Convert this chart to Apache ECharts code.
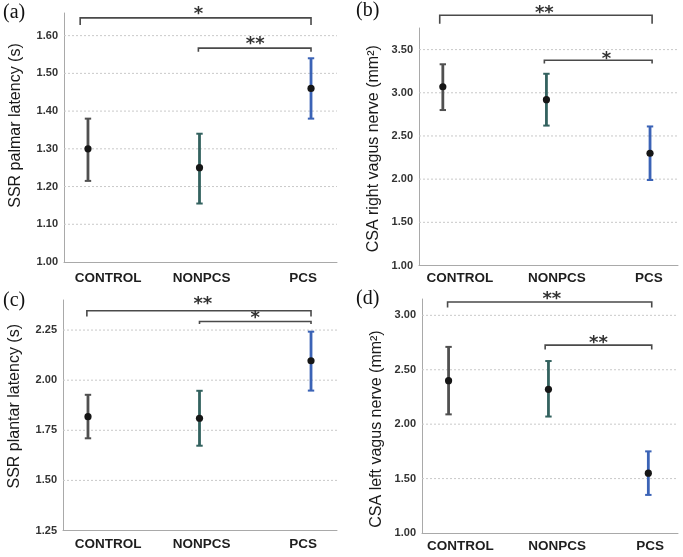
<!DOCTYPE html>
<html><head><meta charset="utf-8">
<script src="https://cdn.jsdelivr.net/npm/echarts@6/dist/echarts.min.js"></script>
<style>html,body{margin:0;padding:0;background:#fff}#c{width:683px;height:557px}</style>
</head><body><div id="c"></div>
<script>
// ---------- data ----------
const groups = ['CONTROL', 'NONPCS', 'PCS'];
const groupColors = ['#505050', '#33625f', '#3b63b6'];

// (a) SSR palmar latency
const aName = 'SSR palmar latency (s)';
const aTicks = [1.00, 1.10, 1.20, 1.30, 1.40, 1.50, 1.60];
const aMean = [1.30, 1.25, 1.46];
const aLow  = [1.215, 1.155, 1.38];
const aHigh = [1.38, 1.34, 1.54];
const aBrackets = [[-0.07, 2.0, 1.647, 1.628], [0.99, 2.0, 1.567, 1.557]];
const aStars = [[0.99, 1.667, '*'], [1.5, 1.587, '**']];

// (b) CSA right vagus nerve
const bName = 'CSA right vagus nerve (mm²)';
const bTicks = [1.00, 1.50, 2.00, 2.50, 3.00, 3.50];
const bMean = [3.07, 2.92, 2.30];
const bLow  = [2.80, 2.62, 1.99];
const bHigh = [3.33, 3.22, 2.61];
const bBrackets = [[-0.03, 2.02, 3.898, 3.80], [0.98, 2.02, 3.376, 3.34]];
const bStars = [[0.98, 3.964, '**'], [1.58, 3.434, '*']];

// (c) SSR plantar latency
const cName = 'SSR plantar latency (s)';
const cTicks = [1.25, 1.50, 1.75, 2.00, 2.25];
const cMean = [1.818, 1.81, 2.097];
const cLow  = [1.71, 1.673, 1.948];
const cHigh = [1.927, 1.947, 2.242];
const cBrackets = [[-0.01, 2.0, 2.346, 2.318], [1.0, 2.0, 2.293, 2.28]];
const cStars = [[1.03, 2.40, '**'], [1.5, 2.328, '*']];

// (d) CSA left vagus nerve
const dName = 'CSA left vagus nerve (mm²)';
const dTicks = [1.00, 1.50, 2.00, 2.50, 3.00];
const dMean = [2.40, 2.32, 1.55];
const dLow  = [2.09, 2.07, 1.35];
const dHigh = [2.71, 2.58, 1.75];
const dBrackets = [[-0.01, 2.034, 3.122, 3.073], [0.967, 2.034, 2.726, 2.687]];
const dStars = [[1.034, 3.183, '**'], [1.5, 2.78, '**']];

// ---------- layout ----------
const panels = [
  {tag:'(a)', tagPos:[3,14], grid:{left:64, top:13, width:273, height:249},
   xMin:-0.215, xMax:2.233, labelPos:[0.18, 1.02, 1.93], yMin:1.0, yMax:1.66,
   name:aName, ticks:aTicks, mean:aMean, low:aLow, high:aHigh, brackets:aBrackets, stars:aStars,
   nameGap:40, namePad:[0,0,0,24], labelMargin:9},
  {tag:'(b)', tagPos:[356,12], grid:{left:419, top:28, width:259, height:237.5},
   xMin:-0.23, xMax:2.27, labelPos:[0.165, 1.10, 1.99], yMin:1.0, yMax:3.75,
   name:bName, ticks:bTicks, mean:bMean, low:bLow, high:bHigh, brackets:bBrackets, stars:bStars,
   nameGap:37, namePad:[0,4,0,0], labelMargin:6},
  {tag:'(c)', tagPos:[3,302], grid:{left:63, top:300, width:274, height:230.5},
   xMin:-0.224, xMax:2.233, labelPos:[0.18, 1.02, 1.93], yMin:1.25, yMax:2.40,
   name:cName, ticks:cTicks, mean:cMean, low:cLow, high:cHigh, brackets:cBrackets, stars:cStars,
   nameGap:40, namePad:[0,0,0,18], labelMargin:7},
  {tag:'(d)', tagPos:[356,300], grid:{left:422, top:299, width:256, height:234},
   xMin:-0.266, xMax:2.297, labelPos:[0.117, 1.087, 2.017], yMin:1.0, yMax:3.15,
   name:dName, ticks:dTicks, mean:dMean, low:dLow, high:dHigh, brackets:dBrackets, stars:dStars,
   nameGap:37, namePad:[0,26,0,0], labelMargin:6}
];

function renderGridLine(params, api) {
  const cs = params.coordSys;
  const p = api.coord([0, api.value(1)]);
  return {type:'line', silent:true,
    shape:{x1:cs.x, y1:p[1], x2:cs.x + cs.width, y2:p[1]},
    style:{stroke:'#c9c9c9', lineWidth:1, lineDash:[2,2]}};
}
function renderErr(params, api) {
  const x = api.value(0), m = api.value(1), lo = api.value(2), hi = api.value(3), ci = api.value(4);
  const pLo = api.coord([x, lo]), pHi = api.coord([x, hi]), pM = api.coord([x, m]);
  const c = groupColors[ci];
  const cap = 3.2;
  return {type:'group', children:[
    {type:'line', shape:{x1:pLo[0], y1:pLo[1], x2:pHi[0], y2:pHi[1]}, style:{stroke:c, lineWidth:2.8}},
    {type:'line', shape:{x1:pLo[0]-cap, y1:pLo[1], x2:pLo[0]+cap, y2:pLo[1]}, style:{stroke:c, lineWidth:2}},
    {type:'line', shape:{x1:pHi[0]-cap, y1:pHi[1], x2:pHi[0]+cap, y2:pHi[1]}, style:{stroke:c, lineWidth:2}},
    {type:'circle', shape:{cx:pM[0], cy:pM[1], r:3.6}, style:{fill:'#161616'}}
  ]};
}
function renderBracket(params, api) {
  const x1 = api.value(0), x2 = api.value(1), yt = api.value(2), ye = api.value(3);
  const pts = [api.coord([x1, ye]), api.coord([x1, yt]), api.coord([x2, yt]), api.coord([x2, ye])];
  return {type:'polyline', shape:{points:pts}, style:{stroke:'#4a4a4a', lineWidth:1.6, fill:null}};
}

const grids = [], xAxes = [], yAxes = [], series = [], graphics = [];
panels.forEach((P, i) => {
  grids.push(Object.assign({outerBoundsMode:'none', containLabel:false}, P.grid));
  xAxes.push({type:'value', gridIndex:i, min:P.xMin, max:P.xMax,
    axisLine:{show:true, onZero:false, lineStyle:{color:'#a9a9a9', width:1}},
    axisTick:{show:false}, splitLine:{show:false},
    axisLabel:{customValues:P.labelPos, margin:P.labelMargin, color:'#1e1e1e', fontWeight:'bold',
      fontSize:13.5, fontFamily:'Liberation Sans',
      formatter:(v) => {
        let best = 0;
        P.labelPos.forEach((lp, k) => { if (Math.abs(lp - v) < Math.abs(P.labelPos[best] - v)) best = k; });
        return groups[best];
      }}
  });
  yAxes.push({type:'value', gridIndex:i, min:P.yMin, max:P.yMax,
    name:P.name, nameLocation:'middle', nameGap:P.nameGap,
    nameTextStyle:{fontSize:16, color:'#1a1a1a', fontFamily:'Liberation Sans', padding:P.namePad},
    axisLine:{show:true, onZero:false, lineStyle:{color:'#a9a9a9', width:1}},
    axisTick:{show:false}, splitLine:{show:false},
    axisLabel:{customValues:P.ticks, margin:6, color:'#333', fontWeight:'bold', fontSize:11,
      fontFamily:'Liberation Sans', formatter:(v) => v.toFixed(2)}
  });
  series.push({type:'custom', xAxisIndex:i, yAxisIndex:i, clip:false, silent:true, z:1,
    encode:{x:0, y:1}, renderItem:renderGridLine,
    data:P.ticks.slice(1).map(t => [0, t])});
  series.push({type:'custom', xAxisIndex:i, yAxisIndex:i, clip:false, z:3,
    encode:{x:0, y:[1,2,3]}, renderItem:renderErr,
    data:groups.map((g, k) => [k, P.mean[k], P.low[k], P.high[k], k])});
  series.push({type:'custom', xAxisIndex:i, yAxisIndex:i, clip:false, z:3,
    encode:{x:[0,1], y:[2,3]}, renderItem:renderBracket,
    data:P.brackets});
  series.push({type:'custom', xAxisIndex:i, yAxisIndex:i, clip:false, z:3,
    encode:{x:0, y:1},
    renderItem:(params, api) => {
      const d = P.stars[params.dataIndex];
      const p = api.coord([d[0], d[1]]);
      return {type:'text', x:p[0], y:p[1] + 4,
        style:{text:d[2], fill:'#333', font:'bold 18px "DejaVu Sans"', align:'center', verticalAlign:'middle'}};
    },
    data:P.stars.map(s => [s[0], s[1]])});
  graphics.push({type:'text', left:P.tagPos[0], top:P.tagPos[1] - 11,
    style:{text:P.tag, fill:'#111', font:'20px "Liberation Serif"'}});
});

const chart = echarts.init(document.getElementById('c'), null, {renderer:'canvas'});
chart.setOption({
  animation:false,
  backgroundColor:'#fff',
  grid:grids, xAxis:xAxes, yAxis:yAxes, series:series, graphic:graphics
});
</script>
</body></html>
